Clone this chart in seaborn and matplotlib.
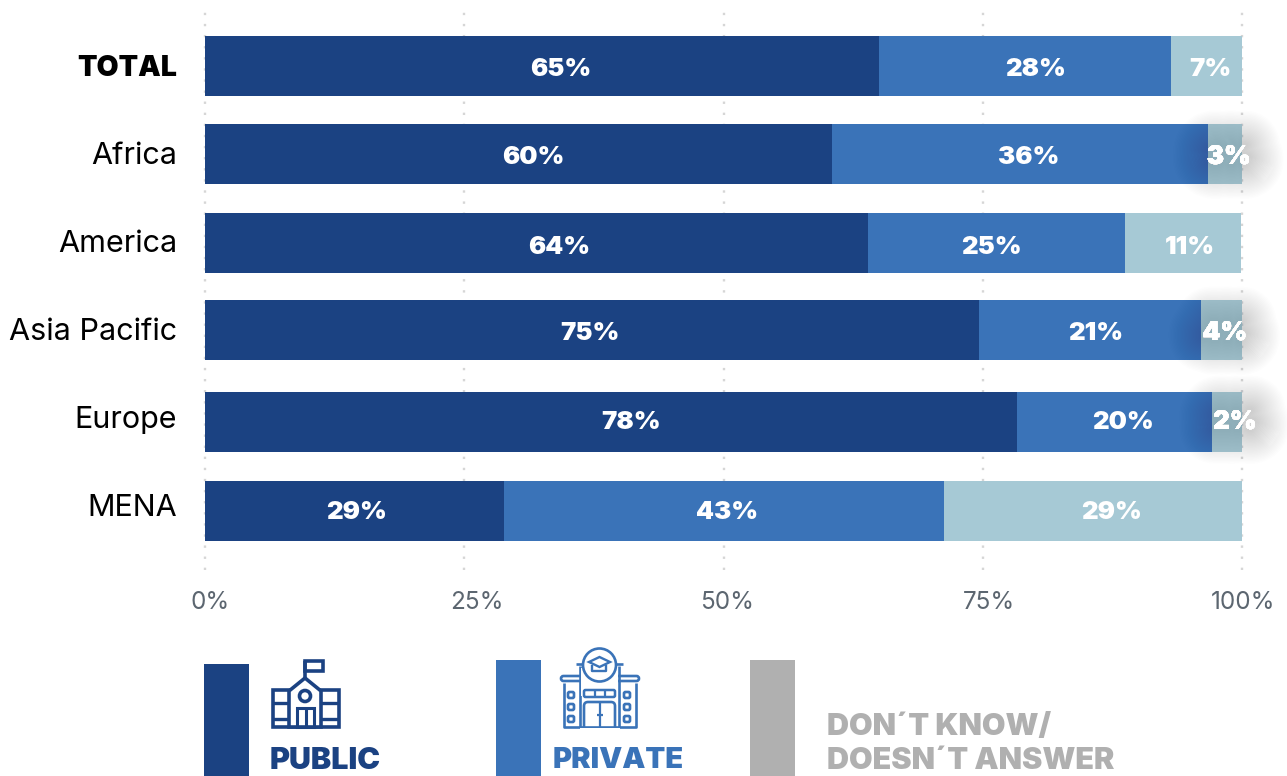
import matplotlib
matplotlib.use("Agg")
import matplotlib.pyplot as plt
import matplotlib.patheffects as pe
from matplotlib.patches import Circle, FancyBboxPatch, Polygon, Rectangle
from matplotlib.transforms import ScaledTranslation
import pandas as pd
import seaborn as sns

regions = ["TOTAL", "Africa", "America", "Asia Pacific", "Europe", "MENA"]
public = [65.0, 60.5, 63.9, 74.6, 78.3, 28.8]
private = [28.2, 36.2, 24.8, 21.4, 18.8, 42.5]
dont_know = [6.8, 3.4, 11.2, 4.0, 2.9, 28.7]
public_labels = ["65%", "60%", "64%", "75%", "78%", "29%"]
private_labels = ["28%", "36%", "25%", "21%", "20%", "43%"]
dont_know_labels = ["7%", "3%", "11%", "4%", "2%", "29%"]
x_ticks = [0, 25, 50, 75, 100]
x_tick_labels = ["0%", "25%", "50%", "75%", "100%"]

# layout only, in pixels
row_y = [66, 154, 243, 330, 422, 511]
region_label_dy = [-1, -1, -2, -1, -5, -6]
x_label_dx = [5, 13, 4, 6, 1]
public_dx = [19, 14.5, 22.5, -2, 20, 2.5]
private_dx = [10, 8.5, -4.5, 6, 8.5, 3]
dont_know_dx = [3.5, 3.5, 7, 3.5, 8, 18]
value_dy = [3.5, 3.5, 4.5, 3.5, 0.5, 1.5]
glow_regions = ["Africa", "Asia Pacific", "Europe"]

NAVY = "#1b4282"
BLUE = "#3a73b8"
PALE = "#a6c9d5"
GREY = "#b0b0b0"
FONT = "Inter"

sns.set_theme(style="white")
plt.rcParams["font.family"] = [FONT, "DejaVu Sans"]

df = pd.DataFrame({"region": regions, "y": row_y, "public": public,
                   "private": private, "dont_know": dont_know})
df["to_private"] = df["public"] + df["private"]
df["to_all"] = df["to_private"] + df["dont_know"]

W, H = 1287, 776
fig = plt.figure(figsize=(W / 100, H / 100), dpi=100)
ax = fig.add_axes([205 / W, 1 - 570 / H, 1037 / W, 563 / H])

# stacked bars: widest drawn first, the shorter ones over it
for col, color in [("to_all", PALE), ("to_private", BLUE), ("public", NAVY)]:
    sns.barplot(data=df, x=col, y="y", orient="y", native_scale=True, color=color,
                saturation=1, width=60 / 87, linewidth=0, ax=ax, zorder=3)

ax.set_xlim(0, 100)
ax.set_ylim(570, 7)
ax.set_xlabel("")
ax.set_ylabel("")
sns.despine(ax=ax, left=True, bottom=True)
ax.xaxis.grid(True, color="#d6d6d6", linewidth=1.7, linestyle=(0, (1, 3.7)), zorder=1)
ax.yaxis.grid(False)
ax.set_axisbelow(True)
for gl in ax.get_xgridlines():
    gl.set_clip_on(False)

ax.set_xticks(x_ticks, x_tick_labels)
ax.set_yticks(row_y, regions)
ax.tick_params(axis="x", length=0, pad=15, labelsize=17.5, labelcolor="#5c6670")
ax.tick_params(axis="y", length=0, pad=20, labelsize=22, labelcolor="black")
for lab, dx in zip(ax.get_xticklabels(), x_label_dx):
    lab.set_transform(lab.get_transform() + ScaledTranslation(dx / 100, 0, fig.dpi_scale_trans))
for lab, dy in zip(ax.get_yticklabels(), region_label_dy):
    lab.set_transform(lab.get_transform() + ScaledTranslation(0, -dy / 100, fig.dpi_scale_trans))
ax.get_yticklabels()[0].set_fontweight("black")
ax.get_yticklabels()[0].set_fontsize(20.5)

glow = [pe.withStroke(linewidth=w, foreground="#33454f", alpha=0.0075) for w in range(50, 2, -2)]
glow.append(pe.Normal())


def put_label(text, x, y, dx, dy, shadow=False):
    t = ax.annotate(text, xy=(x, y), xytext=(dx, -dy), textcoords="offset pixels",
                    ha="center", va="center", color="white", fontsize=18.5,
                    fontweight="black", zorder=6, annotation_clip=False)
    if shadow:
        t.set_path_effects(glow)


for i, region in enumerate(regions):
    a, b, c = public[i], private[i], dont_know[i]
    put_label(public_labels[i], a / 2, row_y[i], public_dx[i], value_dy[i])
    put_label(private_labels[i], a + b / 2, row_y[i], private_dx[i], value_dy[i])
    put_label(dont_know_labels[i], a + b + c / 2, row_y[i], dont_know_dx[i], value_dy[i],
              shadow=region in glow_regions)

# overlay in pixel coordinates for the legend and its icons
leg = fig.add_axes([0, 0, 1, 1], facecolor="none")
leg.set_xlim(0, W)
leg.set_ylim(H, 0)
leg.axis("off")

leg.add_patch(Rectangle((204, 664), 45, 112, color=NAVY, lw=0))
leg.add_patch(Rectangle((496, 660), 45, 116, color=BLUE, lw=0))
leg.add_patch(Rectangle((750, 660), 45, 116, color=GREY, lw=0))


def box(x, y, w, h, color, lw=2.0):
    leg.add_patch(Rectangle((x, y), w, h, fill=False, edgecolor=color, lw=lw))


def line(xs, ys, color, lw=2.0):
    leg.plot(xs, ys, color=color, lw=lw, solid_capstyle="butt")


# school icon
box(273, 690, 66, 37, NAVY, 2.6)
line([305, 305], [678, 661], NAVY, 2.6)
box(305, 661, 18, 10, NAVY, 2.6)
leg.add_patch(Polygon([(289, 691), (305, 678), (321, 691), (321, 727), (289, 727)], closed=True,
                      facecolor="white", edgecolor=NAVY, lw=2.6))
leg.add_patch(Circle((305, 696), 5.5, fill=False, edgecolor=NAVY, lw=2.6))
box(297, 708, 17, 19, NAVY, 2.2)
line([305.5, 305.5], [708, 727], NAVY, 2.2)
for y0 in (703, 719):
    line([273, 289], [y0, y0], NAVY, 2.4)
    line([321, 339], [y0, y0], NAVY, 2.4)

# university icon
line([564, 564, 636, 636], [683, 727, 727, 683], BLUE, 1.9)
leg.add_patch(FancyBboxPatch((561, 676), 78, 5, boxstyle="round,pad=0,rounding_size=2.5",
                             fill=False, edgecolor=BLUE, lw=1.9))
line([580, 580], [666, 727], BLUE, 1.9)
line([619, 619], [666, 727], BLUE, 1.9)
line([576, 584], [664, 664], BLUE, 1.9)
line([615, 623], [664, 664], BLUE, 1.9)
leg.add_patch(Rectangle((581, 668), 37, 28, facecolor="white", edgecolor="none", zorder=2))
leg.add_patch(Circle((599.5, 665), 16.5, facecolor="white", edgecolor=BLUE, lw=1.9, zorder=3))
leg.add_patch(Polygon([(589, 662), (599.5, 657), (610, 662), (599.5, 667)], closed=True,
                      fill=False, edgecolor=BLUE, lw=1.7, zorder=4))
line([592, 592, 606, 606], [665, 671, 671, 665], BLUE, 1.7)
leg.lines[-1].set_zorder(4)
leg.add_patch(FancyBboxPatch((584, 690), 31, 7, boxstyle="round,pad=0,rounding_size=1.5",
                             fill=False, edgecolor=BLUE, lw=1.8, zorder=4))
for x0 in (595, 605):
    line([x0, x0], [690, 697], BLUE, 1.6)
    leg.lines[-1].set_zorder(4)
leg.add_patch(FancyBboxPatch((584, 702), 31, 30, boxstyle="round,pad=0,rounding_size=4",
                             fill=False, edgecolor=BLUE, lw=1.9))
leg.add_patch(Rectangle((580, 728), 40, 8, facecolor="white", edgecolor="none", zorder=5))
line([600, 600], [702, 727], BLUE, 1.6)
line([597, 603], [715, 715], BLUE, 1.6)
for y0 in (692, 704, 716):
    for x0 in (568, 624):
        leg.add_patch(FancyBboxPatch((x0, y0), 6, 6, boxstyle="round,pad=0,rounding_size=1.5",
                                     fill=False, edgecolor=BLUE, lw=1.9))

legend_font = dict(fontsize=22, fontweight="black", va="center", ha="left")
leg.text(270, 761, "PUBLIC", color=NAVY, **legend_font)
leg.text(553, 761, "PRIVATE", color=BLUE, fontsize=21, fontweight="black", va="center", ha="left")
leg.text(827, 727, "DON´T KNOW/", color=GREY, **legend_font)
leg.text(827, 761, "DOESN´T ANSWER", color=GREY, **legend_font)

fig.savefig("out.png", dpi=100)
